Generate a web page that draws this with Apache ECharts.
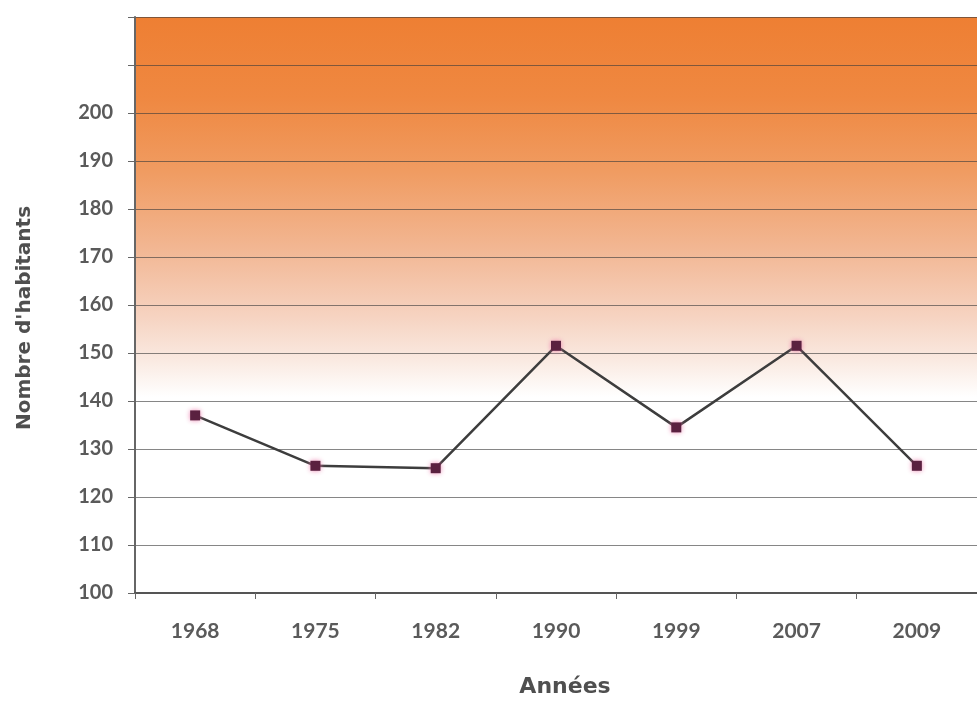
<!DOCTYPE html>
<html>
<head>
<meta charset="utf-8">
<script src="https://cdn.jsdelivr.net/npm/echarts@6/dist/echarts.min.js"></script>
<style>html,body{margin:0;padding:0;background:#fff;}#c{width:977px;height:703px;}</style>
</head>
<body>
<div id="c"></div>
<script>
var years = ['1968', '1975', '1982', '1990', '1999', '2007', '2009'];
var habitants = [137, 126.5, 126, 151.5, 134.5, 151.5, 126.5];
var yMin = 100, yMax = 220, yStep = 10, yLabelMax = 200;

var chart = echarts.init(document.getElementById('c'));
chart.setOption({
  backgroundColor: '#ffffff',
  animation: false,
  grid: {
    left: 135, top: 17, bottom: 107, right: 0,
    show: true,
    borderWidth: 0,
    backgroundColor: {
      type: 'linear', x: 0, y: 0, x2: 0, y2: 1,
      colorStops: [
        {offset: 0, color: '#EE7F33'},
        {offset: 0.14, color: '#EF8841'},
        {offset: 0.27, color: '#F09C62'},
        {offset: 0.40, color: '#F2B692'},
        {offset: 0.52, color: '#F6D3C1'},
        {offset: 0.60, color: '#FAEBE3'},
        {offset: 0.66, color: '#FFFFFF'},
        {offset: 1, color: '#FFFFFF'}
      ]
    }
  },
  xAxis: {
    type: 'category',
    data: years,
    boundaryGap: true,
    name: 'Années',
    nameLocation: 'middle',
    nameGap: 83,
    nameTextStyle: {fontFamily: 'DejaVu Sans', fontWeight: 'bold', fontSize: 22, color: '#4f4f4f', padding: [0, 0, 0, 18]},
    axisLine: {show: true, lineStyle: {color: '#555', width: 2}},
    axisTick: {show: true, length: 6, inside: false, alignWithLabel: false, lineStyle: {color: '#666', width: 1}},
    axisLabel: {margin: 28, fontFamily: 'Lato', fontWeight: 'bold', fontSize: 21, color: '#5a5a5a'},
    splitLine: {show: false}
  },
  yAxis: {
    type: 'value',
    min: yMin, max: yMax, interval: yStep,
    name: "Nombre d'habitants",
    nameLocation: 'middle',
    nameGap: 100,
    nameRotate: 90,
    nameTextStyle: {fontFamily: 'DejaVu Sans', fontWeight: 'bold', fontSize: 20, color: '#4f4f4f', padding: [0, 26, 0, 0]},
    axisLine: {show: true, lineStyle: {color: '#666', width: 2}},
    axisTick: {show: true, length: 7, lineStyle: {color: '#666', width: 1}},
    axisLabel: {
      margin: 22, fontFamily: 'Lato', fontWeight: 'bold', fontSize: 20, color: '#5a5a5a',
      formatter: function (v) { return v <= yLabelMax ? String(v) : ''; }
    },
    splitLine: {show: true, lineStyle: {color: 'rgba(60,60,60,0.62)', width: 1}}
  },
  series: [{
    type: 'line',
    data: habitants,
    symbol: 'rect',
    symbolSize: 10,
    lineStyle: {color: '#3d3d3d', width: 2.5},
    itemStyle: {color: '#5a2140', shadowColor: 'rgba(235,120,170,0.9)', shadowBlur: 5}
  }]
});
</script>
</body>
</html>
